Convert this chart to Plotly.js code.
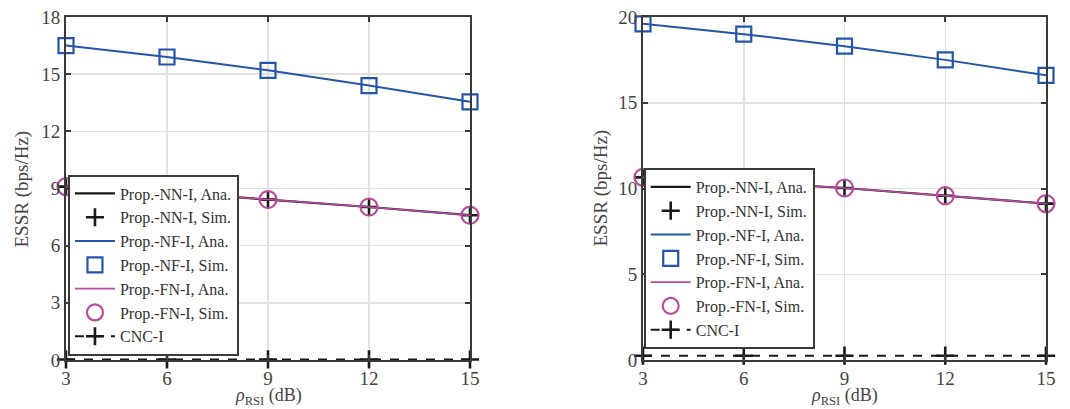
<!DOCTYPE html>
<html>
<head>
<meta charset="utf-8">
<script src="https://cdn.plot.ly/plotly-3.0.1.min.js"></script>
<style>
html,body{margin:0;padding:0;background:#fff;}
#chart{width:1070px;height:409px;}
</style>
</head>
<body>
<div id="chart"></div>
<script>
// ---- data ----
const rhoRSI = [3, 6, 9, 12, 15];
// left panel
const leftNN = [9.1, 8.8, 8.42, 8.03, 7.6];
const leftNF = [16.5, 15.9, 15.2, 14.4, 13.55];
const leftFN = [9.1, 8.8, 8.42, 8.03, 7.6];
const leftCNC = [0.03, 0.03, 0.03, 0.03, 0.03];
// right panel
const rightNN = [10.65, 10.38, 10.03, 9.58, 9.12];
const rightNF = [19.6, 19.0, 18.3, 17.5, 16.6];
const rightFN = [10.65, 10.38, 10.03, 9.58, 9.12];
const rightCNC = [0.25, 0.25, 0.25, 0.25, 0.25];
const leftYTicks = [0, 3, 6, 9, 12, 15, 18];
const rightYTicks = [0, 5, 10, 15, 20];
const xTicks = [3, 6, 9, 12, 15];
const names = ['Prop.-NN-I, Ana.', 'Prop.-NN-I, Sim.', 'Prop.-NF-I, Ana.', 'Prop.-NF-I, Sim.', 'Prop.-FN-I, Ana.', 'Prop.-FN-I, Sim.', 'CNC-I'];
const xTitleText = '<i>ρ</i><sub>RSI</sub> (dB)';
const yTitleText = 'ESSR (bps/Hz)';

const BLUE = '#2356a8', MAG = '#bb4aa0', BLK = '#1a1a1a';
const FONT = '"Liberation Serif"';

function panel(nn, nf, fn, cnc, xa, ya, leg) {
  const base = {x: rhoRSI, xaxis: xa, yaxis: ya, legend: leg, cliponaxis: false, type: 'scatter'};
  return [
    Object.assign({}, base, {y: nn, name: names[0], mode: 'lines', line: {color: BLK, width: 2.2}}),
    Object.assign({}, base, {y: nn, name: names[1], mode: 'markers', marker: {symbol: 'cross-thin-open', size: 13, color: BLK, line: {color: BLK, width: 2.6}}}),
    Object.assign({}, base, {y: nf, name: names[2], mode: 'lines', line: {color: BLUE, width: 2}}),
    Object.assign({}, base, {y: nf, name: names[3], mode: 'markers', marker: {symbol: 'square-open', size: 15, color: BLUE, line: {color: BLUE, width: 2.2}}}),
    Object.assign({}, base, {y: fn, name: names[4], mode: 'lines', line: {color: MAG, width: 1.6}}),
    Object.assign({}, base, {y: fn, name: names[5], mode: 'markers', marker: {symbol: 'circle-open', size: 17, color: MAG, line: {color: MAG, width: 2.2}}}),
    Object.assign({}, base, {y: cnc, name: names[6], mode: 'lines+markers', line: {color: BLK, width: 2, dash: 'dash'}, marker: {symbol: 'cross-thin-open', size: 13, color: BLK, line: {color: BLK, width: 2.6}}})
  ];
}

const data = panel(leftNN, leftNF, leftFN, leftCNC, 'x', 'y', 'legend')
  .concat(panel(rightNN, rightNF, rightFN, rightCNC, 'x2', 'y2', 'legend2'));

const axCommon = {
  showline: true, mirror: 'ticks', linecolor: '#3a3a3a', linewidth: 2,
  ticks: 'inside', ticklen: 5, tickwidth: 2, tickcolor: '#3a3a3a',
  showgrid: true, gridcolor: '#e2e2e2', gridwidth: 1.5, zeroline: false,
  tickfont: {family: FONT, size: 19, color: '#444'}
};
const legCommon = {
  bgcolor: '#fff', bordercolor: '#3a3a3a', borderwidth: 2,
  font: {family: FONT, size: 16, color: '#333'}, tracegroupgap: 0,
  xanchor: 'left', yanchor: 'bottom', itemwidth: 40
};
const titleFont = {family: FONT, size: 19, color: '#444'};

const W = 980;
const dL = [0, 404 / W], dR = [577 / W, 1];
const xTitles = [dL, dR].map(d => ({
  text: xTitleText, xref: 'paper', yref: 'paper', x: (d[0] + d[1]) / 2, y: -0.066,
  xanchor: 'center', yanchor: 'top', showarrow: false, font: {family: FONT, size: 18, color: '#444'}
}));
const yTitles = [-0.0449, 0.5449].map(px => ({
  text: yTitleText, xref: 'paper', yref: 'paper', x: px, y: 0.5, textangle: -90,
  xanchor: 'center', yanchor: 'middle', showarrow: false, font: titleFont
}));

const layout = {
  width: 1070, height: 409,
  margin: {l: 66, r: 24, t: 17, b: 49},
  paper_bgcolor: '#fff', plot_bgcolor: '#fff',
  showlegend: true,
  xaxis: Object.assign({}, axCommon, {domain: dL, range: [3, 15], tickvals: xTicks, anchor: 'y'}),
  yaxis: Object.assign({}, axCommon, {domain: [0, 1], range: [0, 18], tickvals: leftYTicks, anchor: 'x'}),
  xaxis2: Object.assign({}, axCommon, {domain: dR, range: [3, 15], tickvals: xTicks, anchor: 'y2'}),
  yaxis2: Object.assign({}, axCommon, {domain: [0, 1], range: [0, 20], tickvals: rightYTicks, anchor: 'x2'}),
  legend: Object.assign({}, legCommon, {x: 0.002, y: 0.013}),
  legend2: Object.assign({}, legCommon, {x: 0.5895, y: 0.032}),
  annotations: xTitles.concat(yTitles)
};

Plotly.newPlot('chart', data, layout, {displayModeBar: false, staticPlot: true});
</script>
</body>
</html>
